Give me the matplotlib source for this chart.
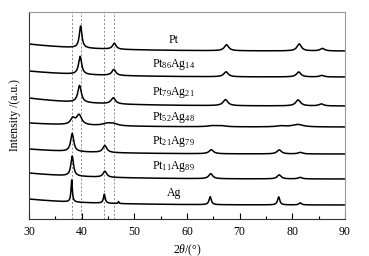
import matplotlib
matplotlib.use('Agg')
import matplotlib.pyplot as plt
import numpy as np

plt.rcParams['font.family'] = ['Liberation Serif', 'DejaVu Serif']
plt.rcParams['mathtext.fontset'] = 'custom'
plt.rcParams['mathtext.rm'] = 'Liberation Serif'
plt.rcParams['mathtext.it'] = 'Liberation Serif:italic'

# Samples, top to bottom
LABELS = ['Pt', r'Pt$_{86}$Ag$_{14}$', r'Pt$_{79}$Ag$_{21}$', r'Pt$_{52}$Ag$_{48}$',
          r'Pt$_{21}$Ag$_{79}$', r'Pt$_{11}$Ag$_{89}$', 'Ag']
LABEL_Y = [179, 155, 127, 102, 78, 53, 26]

# Background level (offset trace) at 30 and 90 degrees
BASE_LEFT = [175, 148, 121, 96, 70, 46, 20]
BASE_RIGHT = [168, 142, 113, 92, 65, 40, 14]

# Reflections: position, height, half width
PEAK_POS = [
    [39.8, 46.2, 67.5, 81.3, 85.7],
    [39.7, 46.1, 67.4, 81.2, 85.6],
    [39.6, 46.0, 67.3, 81.1, 85.5],
    [38.3, 39.5, 44.8, 46.0, 64.8, 66.5, 77.8, 81.0],
    [38.2, 44.4, 64.6, 77.5, 81.5],
    [38.2, 44.4, 64.5, 77.5, 81.5],
    [38.1, 44.3, 47.0, 64.4, 77.4, 81.5],
]
PEAK_H = [
    [22, 6, 6, 7, 2.5],
    [18, 6, 5, 5, 1.5],
    [17, 6, 6, 6, 2],
    [6, 10, 2, 2, 1, 1, 1, 2.5],
    [18, 7, 4, 4, 1.5],
    [20, 6, 5, 4, 1.5],
    [22, 9, 2, 8, 8, 2],
]
PEAK_W = [
    [0.3, 0.4, 0.5, 0.5, 0.5],
    [0.35, 0.45, 0.5, 0.5, 0.5],
    [0.4, 0.5, 0.55, 0.55, 0.5],
    [0.5, 0.6, 1.0, 1.0, 1.0, 1.0, 1.0, 1.2],
    [0.35, 0.45, 0.5, 0.5, 0.5],
    [0.3, 0.4, 0.45, 0.45, 0.45],
    [0.15, 0.2, 0.1, 0.25, 0.25, 0.3],
]

# Reference lines: Ag(111), Pt(111), Ag(200), Pt(200)
REF_LINES = [38.1, 39.8, 44.3, 46.2]


def trace(x, left, right, pos, h, w):
    base = right + (left - right) * np.exp(-(x - 30) / 12)
    y = base.copy()
    for p, a, g in zip(pos, h, w):
        y += a * g**2 / ((x - p)**2 + g**2)
    return y


fig = plt.figure(figsize=(3.69, 2.56), dpi=100)
ax = fig.add_axes([0.0786, 0.1445, 0.8564, 0.8085])

x = np.linspace(30, 90, 3000)
for i in range(len(LABELS)):
    y = trace(x, BASE_LEFT[i], BASE_RIGHT[i], PEAK_POS[i], PEAK_H[i], PEAK_W[i])
    ax.plot(x, y, color='black', lw=1.1)
    ax.text(57.5, LABEL_Y[i], LABELS[i], ha='center', va='center', fontsize=8.5)

for xv in REF_LINES:
    ax.axvline(xv, color='#888888', lw=0.7, ls=(0, (2, 2)), zorder=0)

ax.set_xlim(30, 90)
ax.set_ylim(0, 207)
ax.set_xticks(np.arange(30, 91, 10))
ax.set_xticks(np.arange(35, 90, 10), minor=True)
ax.set_yticks([])
ax.tick_params(axis='x', direction='in', length=4, width=0.8, labelsize=8.5, pad=5)
ax.tick_params(axis='x', which='minor', direction='in', length=2.5, width=0.8)
for s in ['left', 'bottom']:
    ax.spines[s].set_color('#333333')
    ax.spines[s].set_linewidth(0.8)
for s in ['top', 'right']:
    ax.spines[s].set_color('#999999')
    ax.spines[s].set_linewidth(0.8)

ax.set_xlabel(r'$2\theta$/(°)', fontsize=8.5, labelpad=3)
ax.set_ylabel('Intensity /(a.u.)', fontsize=8.5, labelpad=6)

fig.savefig('out.png', dpi=100)
